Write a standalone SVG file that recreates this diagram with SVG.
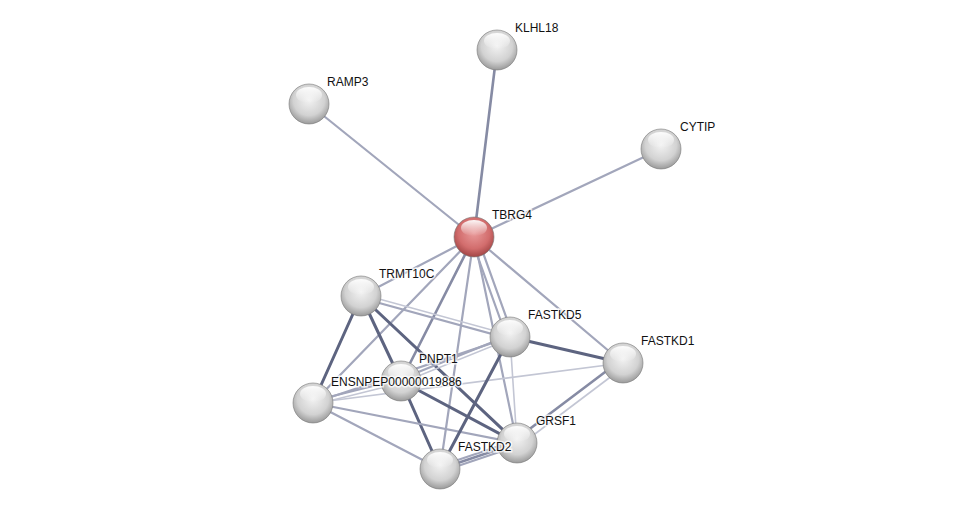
<svg xmlns="http://www.w3.org/2000/svg" width="975" height="514" viewBox="0 0 975 514">
<defs>
<radialGradient id="gs" cx="0.5" cy="0.4" r="0.6">
<stop offset="0" stop-color="#f2f2f2"/>
<stop offset="0.65" stop-color="#d2d2d2"/>
<stop offset="1" stop-color="#9a9a9a"/>
</radialGradient>
<radialGradient id="rs" cx="0.5" cy="0.4" r="0.6">
<stop offset="0" stop-color="#e99a9a"/>
<stop offset="0.65" stop-color="#d26d6d"/>
<stop offset="1" stop-color="#a24545"/>
</radialGradient>
<linearGradient id="hl" x1="0" y1="0" x2="0" y2="1">
<stop offset="0" stop-color="#fff" stop-opacity="0.95"/>
<stop offset="1" stop-color="#fff" stop-opacity="0"/>
</linearGradient>
</defs>
<style>
.e{fill:none;stroke-linecap:round}
.l1{stroke:#c3c6d4;stroke-width:1.6}
.l2{stroke:#a2a6bb;stroke-width:2.2}
.l3{stroke:#868ba4;stroke-width:2.6}
.l4{stroke:#5d6480;stroke-width:3}
.rim{fill:none;stroke:#7a7a7a;stroke-width:1;stroke-opacity:0.6}
text{font-family:"Liberation Sans",Arial,sans-serif;font-size:12px;fill:#111;paint-order:stroke;stroke:#fff;stroke-opacity:0.75;stroke-width:3}
</style>
<rect width="975" height="514" fill="#fff"/>
<g id="edges">
<line class="e l3" x1="474" y1="237" x2="497" y2="50"/>
<line class="e l2" x1="474" y1="237" x2="309" y2="104"/>
<line class="e l2" x1="474" y1="237" x2="661" y2="149"/>
<line class="e l2" x1="474" y1="237" x2="361" y2="296"/>
<line class="e l2" x1="474" y1="237" x2="313" y2="403"/>
<line class="e l3" x1="474" y1="237" x2="401" y2="381"/>
<line class="e l2" x1="474" y1="237" x2="440" y2="469"/>
<line class="e l2" x1="474" y1="237" x2="517" y2="443"/>
<line class="e l2" x1="471" y1="238" x2="507" y2="338"/>
<line class="e l2" x1="477" y1="236" x2="513" y2="336"/>
<line class="e l2" x1="474" y1="237" x2="623" y2="363"/>
<line class="e l1" x1="361" y1="294" x2="510" y2="335"/>
<line class="e l2" x1="361" y1="298" x2="510" y2="339"/>
<line class="e l4" x1="361" y1="296" x2="401" y2="381"/>
<line class="e l4" x1="361" y1="296" x2="313" y2="403"/>
<line class="e l4" x1="361" y1="296" x2="517" y2="443"/>
<line class="e l2" x1="401" y1="379" x2="510" y2="335"/>
<line class="e l1" x1="401" y1="383" x2="510" y2="339"/>
<line class="e l4" x1="401" y1="381" x2="517" y2="443"/>
<line class="e l4" x1="401" y1="381" x2="440" y2="469"/>
<line class="e l2" x1="401" y1="379" x2="313" y2="401"/>
<line class="e l1" x1="401" y1="383" x2="313" y2="405"/>
<line class="e l2" x1="313" y1="403" x2="510" y2="337"/>
<line class="e l1" x1="313" y1="403" x2="623" y2="363"/>
<line class="e l2" x1="313" y1="403" x2="517" y2="443"/>
<line class="e l2" x1="313" y1="403" x2="440" y2="469"/>
<line class="e l4" x1="510" y1="337" x2="623" y2="363"/>
<line class="e l4" x1="510" y1="337" x2="440" y2="469"/>
<line class="e l1" x1="510" y1="337" x2="517" y2="443"/>
<line class="e l3" x1="621" y1="360" x2="515" y2="440"/>
<line class="e l1" x1="625" y1="366" x2="519" y2="446"/>
<line class="e l2" x1="440" y1="466" x2="517" y2="440"/>
<line class="e l3" x1="440" y1="469" x2="517" y2="443"/>
<line class="e l2" x1="440" y1="472" x2="517" y2="446"/>
</g>
<g id="n-KLHL18"><circle cx="497" cy="50" r="20" fill="url(#gs)"/><circle class="rim" cx="497" cy="50" r="20"/><ellipse cx="497" cy="41" rx="13" ry="8" fill="url(#hl)"/><text x="515" y="32">KLHL18</text></g>
<g id="n-RAMP3"><circle cx="309" cy="104" r="20" fill="url(#gs)"/><circle class="rim" cx="309" cy="104" r="20"/><ellipse cx="309" cy="95" rx="13" ry="8" fill="url(#hl)"/><text x="327" y="86">RAMP3</text></g>
<g id="n-CYTIP"><circle cx="661" cy="149" r="20" fill="url(#gs)"/><circle class="rim" cx="661" cy="149" r="20"/><ellipse cx="661" cy="140" rx="13" ry="8" fill="url(#hl)"/><text x="680" y="131">CYTIP</text></g>
<g id="n-TRMT10C"><circle cx="361" cy="296" r="20" fill="url(#gs)"/><circle class="rim" cx="361" cy="296" r="20"/><ellipse cx="361" cy="287" rx="13" ry="8" fill="url(#hl)"/><text x="379" y="278">TRMT10C</text></g>
<g id="n-FASTKD5"><circle cx="510" cy="337" r="20" fill="url(#gs)"/><circle class="rim" cx="510" cy="337" r="20"/><ellipse cx="510" cy="328" rx="13" ry="8" fill="url(#hl)"/><text x="528" y="319">FASTKD5</text></g>
<g id="n-FASTKD1"><circle cx="623" cy="363" r="20" fill="url(#gs)"/><circle class="rim" cx="623" cy="363" r="20"/><ellipse cx="623" cy="354" rx="13" ry="8" fill="url(#hl)"/><text x="641" y="345">FASTKD1</text></g>
<g id="n-ENSNPEP"><circle cx="313" cy="403" r="20" fill="url(#gs)"/><circle class="rim" cx="313" cy="403" r="20"/><ellipse cx="313" cy="394" rx="13" ry="8" fill="url(#hl)"/></g>
<g id="n-PNPT1"><circle cx="401" cy="381" r="20" fill="url(#gs)"/><circle class="rim" cx="401" cy="381" r="20"/><ellipse cx="401" cy="372" rx="13" ry="8" fill="url(#hl)"/><text x="419" y="363">PNPT1</text></g>
<g id="n-GRSF1"><circle cx="517" cy="443" r="20" fill="url(#gs)"/><circle class="rim" cx="517" cy="443" r="20"/><ellipse cx="517" cy="434" rx="13" ry="8" fill="url(#hl)"/><text x="536" y="425">GRSF1</text></g>
<g id="n-FASTKD2"><circle cx="440" cy="469" r="20" fill="url(#gs)"/><circle class="rim" cx="440" cy="469" r="20"/><ellipse cx="440" cy="460" rx="13" ry="8" fill="url(#hl)"/><text x="458" y="451">FASTKD2</text></g>
<g id="n-ENSNPEP-label"><text x="331" y="386">ENSNPEP00000019886</text></g>
<g id="n-TBRG4"><circle cx="474" cy="237" r="20" fill="url(#rs)"/><circle class="rim" cx="474" cy="237" r="20" stroke="#8a4a4a"/><ellipse cx="474" cy="228" rx="13" ry="8" fill="url(#hl)"/><text x="492" y="219">TBRG4</text></g>
</svg>
